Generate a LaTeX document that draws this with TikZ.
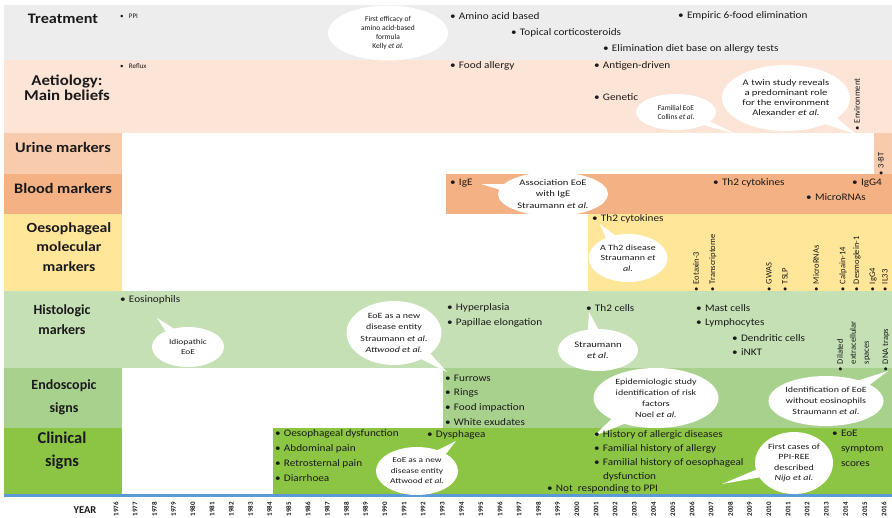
\documentclass[tikz,border=0pt]{standalone}
\usepackage{fontspec}
\usepackage{graphicx}
\setmainfont{Carlito}
\newfontfamily\itemfont{Carlito}[FakeStretch=1.12]
\newfontfamily\bubfont{Carlito}[FakeStretch=1.25]
\newfontfamily\labfont{Carlito}[FakeStretch=1.12]
\usetikzlibrary{shapes.callouts,shapes.geometric}
\definecolor{cTreat}{HTML}{EDEDED}
\definecolor{cAet}{HTML}{FCE4D6}
\definecolor{cUrine}{HTML}{F8CBAD}
\definecolor{cBlood}{HTML}{F4B183}
\definecolor{cOeso}{HTML}{FFE699}
\definecolor{cHist}{HTML}{C5E0B4}
\definecolor{cEndo}{HTML}{A9D18E}
\definecolor{cClin}{HTML}{8CC444}
\definecolor{cLine}{HTML}{5B9BD5}
\definecolor{cText}{HTML}{1A1A1A}
\newcommand\bu{\makebox[9pt][l]{\textbullet}}
\newcommand\vbu{\makebox[7pt][l]{\textbullet}}
\newcommand\etal{\textit{et al.}}
\begin{document}
\begin{tikzpicture}[x=1pt,y=-1pt,
  every node/.style={inner sep=0pt, outer sep=0pt, text=cText},
  item/.style={anchor=west, font=\itemfont\fontsize{10}{12}\selectfont},
  smallitem/.style={anchor=west, font=\fontsize{7}{8}\selectfont},
  vitem/.style={anchor=west, rotate=90, font=\fontsize{8.5}{9.5}\selectfont},
  rowlabel/.style={align=center, font=\labfont\bfseries\fontsize{14.5}{17}\selectfont},
  bubble/.style={ellipse callout, fill=white, align=center, font=\bubfont\fontsize{8.5}{11}\selectfont},
  smallbubble/.style={font=\fontsize{7.5}{9}\selectfont},
  plainbubble/.style={ellipse, fill=white, align=center, font=\fontsize{7.5}{9}\selectfont},
  yearlab/.style={rotate=90, font=\bfseries\fontsize{7}{8}\selectfont}
]
\useasboundingbox (0,0) rectangle (892,517);
% backgrounds
\fill[cTreat] (4,5) rectangle (892,60);
\fill[cAet] (4,60) rectangle (892,133);
\fill[cUrine] (4,133) rectangle (122,174);
\fill[cUrine] (874,133) rectangle (892,174);
\fill[cBlood] (4,174) rectangle (122,214);
\fill[cBlood] (446,174) rectangle (892,214);
\fill[cOeso] (4,214) rectangle (122,291);
\fill[cOeso] (588,214) rectangle (892,291);
\fill[cHist] (4,291) rectangle (892,368);
\fill[cEndo] (4,368) rectangle (122,428);
\fill[cEndo] (443,368) rectangle (892,428);
\fill[cClin] (4,428) rectangle (122,494);
\fill[cClin] (273,428) rectangle (892,494);
\draw[cLine, line width=2.5pt] (4,495.5) -- (892,495.5);

% row labels
\node[rowlabel] (lTreat) at (63,19) {Treatment};
\node[rowlabel, font=\labfont\bfseries\fontsize{15}{14.5}\selectfont] (lAet) at (67,88) {Aetiology:\\Main beliefs};
\node[rowlabel, font=\labfont\bfseries\fontsize{14.5}{15}\selectfont] (lUrine) at (63,147) {Urine markers};
\node[rowlabel, font=\labfont\bfseries\fontsize{14.5}{15}\selectfont] (lBlood) at (63,188) {Blood markers};
\node[rowlabel, font=\labfont\bfseries\fontsize{14}{19.5}\selectfont] (lOeso) at (69,247) {Oesophageal\\molecular\\markers};
\node[rowlabel, font=\bfseries\fontsize{14}{20}\selectfont] (lHist) at (62,320) {Histologic\\markers};
\node[rowlabel, font=\bfseries\fontsize{14}{23}\selectfont] (lEndo) at (64,397) {Endoscopic\\signs};
\node[rowlabel, font=\bfseries\fontsize{16.5}{23}\selectfont] (lClin) at (62,451) {Clinical\\signs};

% Treatment
\node[smallitem] (ppi) at (120,16) {\bu PPI};
\node[item] (amino) at (450,16) {\bu Amino acid based};
\node[item] (topical) at (511,33) {\bu Topical corticosteroids};
\node[item] (elim) at (603,49) {\bu Elimination diet base on allergy tests};
\node[item] (empiric) at (678,16) {\bu Empiric 6-food elimination};
\node[plainbubble, minimum width=120pt, minimum height=55pt] (kelly) at (388,33)
  {First efficacy of\\amino acid-based\\formula\\Kelly \etal};

% Aetiology
\node[smallitem] (reflux) at (120,66) {\bu Reflux};
\node[item] (foodall) at (450,66) {\bu Food allergy};
\node[item] (antigen) at (594,66) {\bu Antigen-driven};
\node[item] (genetic) at (594,97) {\bu Genetic};
\node[bubble, smallbubble, minimum width=80pt, minimum height=36pt, callout absolute pointer={(736,134)}] (collins) at (676,112)
  {Familial EoE\\Collins \etal};
\node[bubble, minimum width=128pt, minimum height=66pt, callout absolute pointer={(856,134)}, font=\bubfont\fontsize{8.5}{10}\selectfont] (alex) at (786,98)
  {A twin study reveals\\a predominant role\\for the environment\\Alexander \etal};
\node[vitem] (env) at (857,130) {\vbu Environment};

% Urine
\node[vitem, font=\fontsize{8.5}{9}\selectfont] (jbt) at (881,175) {\vbu 3-BT};

% Blood
\node[item] (ige) at (450,183) {\bu IgE};
\node[item] (bth2) at (713,183) {\bu Th2 cytokines};
\node[item] (igg4) at (852,183) {\bu IgG4};
\node[item] (micro) at (806,197) {\bu MicroRNAs};
\node[bubble, minimum width=110pt, minimum height=44pt, callout absolute pointer={(481,184)}, font=\bubfont\fontsize{8.5}{11.5}\selectfont] (assoc) at (553,194)
  {Association EoE\\with IgE\\Straumann \etal};

% Oesophageal
\node[item] (oth2) at (592,219) {\bu Th2 cytokines};
\node[bubble, minimum width=74pt, minimum height=48pt, callout absolute pointer={(600,224)}, font=\bubfont\fontsize{8}{10.5}\selectfont] (th2dis) at (628,258)
  {A Th2 disease\\Straumann \textit{et}\\\textit{al.}};
\node[vitem] (eot) at (696,291) {\vbu Eotaxin-3};
\node[vitem] (trans) at (713,291) {\vbu Transcriptome};
\node[vitem] (gwas) at (769,291) {\vbu GWAS};
\node[vitem] (tslp) at (785,291) {\vbu TSLP};
\node[vitem] (omicro) at (816,291) {\vbu MicroRNAs};
\node[vitem] (calp) at (843,291) {\vbu Calpain-14};
\node[vitem] (desm) at (857,291) {\vbu Desmoglein-1};
\node[vitem] (oigg4) at (873,291) {\vbu IgG4};
\node[vitem] (il33) at (885,291) {\vbu IL33};

% Histologic
\node[item] (eos) at (120,300) {\bu Eosinophils};
\node[bubble, minimum width=72pt, minimum height=40pt, callout absolute pointer={(157,318)}, font=\bubfont\fontsize{7.5}{10}\selectfont] (idio) at (188,347)
  {Idiopathic\\EoE};
\node[bubble, minimum width=90pt, minimum height=64pt, callout absolute pointer={(447,372)}, font=\bubfont\fontsize{8}{11.5}\selectfont] (newent) at (394,333)
  {EoE as a new\\disease entity\\Straumann \etal\\\textit{Attwood et al.}};
\node[item] (hyper) at (447,308) {\bu Hyperplasia};
\node[item] (papil) at (447,323) {\bu Papillae elongation};
\node[item] (th2cells) at (586,308) {\bu Th2 cells};
\node[bubble, minimum width=80pt, minimum height=42pt, callout absolute pointer={(589,312)}] (straum) at (598,350)
  {Straumann\\\etal};
\node[item] (mast) at (696,308) {\bu Mast cells};
\node[item] (lymph) at (696,323) {\bu Lymphocytes};
\node[item] (dendr) at (732,338) {\bu Dendritic cells};
\node[item] (inkt) at (732,352) {\bu iNKT};
\node[vitem, align=left, anchor=north west, font=\fontsize{8.5}{13}\selectfont] (dilated) at (837,371) {\vbu Dilated\\\hspace*{7pt}extracellular\\\hspace*{7pt}spaces};
\node[vitem] (dna) at (886,371) {\vbu DNA traps};

% Endoscopic
\node[item] (furrows) at (445,378) {\bu Furrows};
\node[item] (rings) at (445,393) {\bu Rings};
\node[item] (foodimp) at (445,408) {\bu Food impaction};
\node[item] (white) at (445,422) {\bu White exudates};
\node[bubble, minimum width=125pt, minimum height=60pt, callout absolute pointer={(594,436)}, font=\bubfont\fontsize{8}{11}\selectfont] (noel) at (656,398)
  {Epidemiologic study\\identification of risk\\factors\\Noel \etal};
\node[bubble, minimum width=112pt, minimum height=50pt, callout absolute pointer={(888,371)}, font=\bubfont\fontsize{8}{11}\selectfont] (ident) at (826,401)
  {Identification of EoE\\without eosinophils\\Straumann \etal};

% Clinical
\node[item] (oesdys) at (275,434) {\bu Oesophageal dysfunction};
\node[item] (abdo) at (275,449) {\bu Abdominal pain};
\node[item] (retro) at (275,464) {\bu Retrosternal pain};
\node[item] (diarr) at (275,478) {\bu Diarrhoea};
\node[item] (dysph) at (427,435) {\bu Dysphagea};
\node[bubble, minimum width=82pt, minimum height=48pt, callout absolute pointer={(456,441)}, font=\bubfont\fontsize{7.5}{10.5}\selectfont] (attw) at (417,471)
  {EoE as a new\\disease entity\\Attwood \etal};
\node[item] (hist1) at (594,435) {\bu History of allergic diseases};
\node[item] (hist2) at (594,449) {\bu Familial history of allergy};
\node[item] (hist3) at (594,463) {\bu Familial history of oesophageal};
\node[item] (hist4) at (603,477) {dysfunction};
\node[item] (notresp) at (547,489) {\bu Not\ \ responding to PPI};
\node[bubble, minimum width=78pt, minimum height=62pt, callout absolute pointer={(722,484)}, font=\bubfont\fontsize{8}{10.5}\selectfont] (nijo) at (794,463)
  {First cases of\\PPI-REE\\described\\\textit{Nijo et al.}};
\node[item, align=left, anchor=north west, font=\itemfont\fontsize{10}{15}\selectfont] (eoess) at (832,430) {\bu EoE\\\hspace*{9pt}symptom\\\hspace*{9pt}scores};

% Years
\node[font=\bfseries\fontsize{10.5}{11}\selectfont] (yearlabel) at (85,510) {YEAR};
\foreach \i in {0,...,40} {
  \pgfmathtruncatemacro\yr{1976+\i}
  \node[yearlab] (y\yr) at ({116+19.2*\i},509) {\yr};
}
\end{tikzpicture}
\end{document}
